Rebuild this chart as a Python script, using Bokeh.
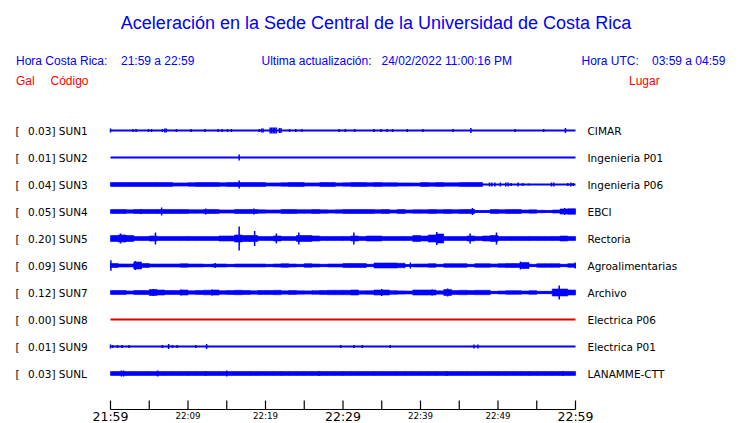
from bokeh.plotting import figure
from bokeh.models import Range1d, Label
from bokeh.embed import file_html
from bokeh.resources import INLINE
from bokeh.core.properties import value

# ---------------- data ----------------
TITLE = "Aceleración en la Sede Central de la Universidad de Costa Rica"
HORA_CR_LABEL = "Hora Costa Rica:"
HORA_CR = "21:59 a 22:59"
UPDATE_LABEL = "Ultima actualización:"
UPDATE = "24/02/2022 11:00:16 PM"
HORA_UTC_LABEL = "Hora UTC:"
HORA_UTC = "03:59 a 04:59"

CODES = ["SUN1", "SUN2", "SUN3", "SUN4", "SUN5", "SUN6", "SUN7", "SUN8", "SUN9", "SUNL"]
GAL = [0.03, 0.01, 0.04, 0.05, 0.20, 0.09, 0.12, 0.00, 0.01, 0.03]
PLACES = ["CIMAR", "Ingenieria P01", "Ingenieria P06", "EBCI", "Rectoria",
          "Agroalimentarias", "Archivo", "Electrica P06", "Electrica P01", "LANAMME-CTT"]
STATUS_OK = [True, True, True, True, True, True, True, False, True, True]

# minutes after 21:59
TICK_MIN = [0, 5, 10, 15, 20, 25, 30, 35, 40, 45, 50, 55, 60]
MAJOR_LABEL_MIN = [0, 30, 60]
MAJOR_LABELS = ["21:59", "22:29", "22:59"]
MINOR_LABEL_MIN = [10, 20, 40, 50]
MINOR_LABELS = ["22:09", "22:19", "22:39", "22:49"]

# per-minute half-amplitude of the noise envelope (trace pixels)
ENV = {
    "SUN3": [2, 2, 2, 2, 2, 2, 2, 2, 1.6, 1.6,
             1.8, 2, 2, 2, 1.7, 2, 2, 2, 2, 2,
             1.6, 1.6, 1.8, 2, 2, 1.6, 1.6, 2, 2, 1.6,
             1.7, 2, 2, 1.8, 2, 1.7, 1.8, 1.6, 1.6, 1.5,
             2, 1.8, 2, 1.7, 1.7, 2, 2, 2, 0, 0,
             0, 0, 0, 0, 0, 0, 0, 0, 0, 0],
    "SUN4": [2, 2, 1.7, 2, 2, 2, 2, 2, 2, 2,
             1.8, 1.7, 2, 2, 1.6, 1.6, 2, 2, 2, 1.7,
             1.6, 1.6, 2, 2, 1.8, 1.8, 2, 1.7, 1.6, 1.7,
             2, 2, 2, 2, 1.8, 2, 1.6, 2, 1.6, 1.8,
             1.7, 2, 1.8, 2, 1.8, 2, 2, 1, 1, 2,
             1.8, 2, 2, 1.5, 1.7, 1.2, 1, 1.5, 2.5, 2.8],
    "SUN5": [3, 3.5, 3, 2, 2, 2.5, 2, 2, 2, 2,
             2, 2, 2, 2, 2.5, 2.5, 3.5, 3, 3, 2,
             2, 2.5, 2, 2, 3, 3, 2.5, 2, 2, 2,
             2, 2.5, 2, 2.5, 2.5, 2, 2, 2, 2, 3,
             2.5, 3.5, 4.5, 2, 2, 2, 2.5, 2, 2.5, 3,
             2, 2, 2, 2, 2, 2, 2, 2, 2.5, 2],
    "SUN6": [2, 1.5, 1.5, 3.5, 2, 1.5, 1.5, 1.5, 1.5, 1.8,
             1.5, 1.5, 1.2, 1.5, 1.5, 1.2, 1.5, 1.5, 1.5, 1.5,
             1.2, 1.5, 1.8, 1.5, 1.2, 1.8, 1.5, 1.2, 1.5, 1.5,
             2, 2, 2, 1.2, 2.5, 2.5, 2.5, 2.2, 1, 1.5,
             1.5, 1.8, 1.2, 1.8, 1.8, 1.8, 1.2, 1.8, 1.8, 1.5,
             1.8, 2, 2, 3, 1.2, 1.8, 1.8, 1.8, 1.2, 1.8],
    "SUN7": [2, 2, 1.6, 2, 2, 3, 2.5, 2, 2, 2.5,
             1.7, 2, 2.3, 2.5, 1.8, 2, 2.2, 2, 1.7, 2,
             2, 2.2, 1.7, 2, 1.7, 1.6, 1.8, 2, 2.2, 2.2,
             2.2, 2.5, 1.7, 1.8, 2.5, 2.5, 1.8, 1.6, 1.5, 2.5,
             2.5, 2.5, 1.7, 3, 2, 2.2, 2, 2.2, 2.2, 1.2,
             1.5, 1.8, 1.8, 1.5, 1.8, 1.2, 1.2, 3.5, 3.5, 2.5],
    "SUNL": [2, 2, 2, 2, 2, 2, 2, 2, 2, 2,
             2, 2, 2, 2, 2, 2, 2, 2, 2, 2,
             2, 2, 2, 2, 2, 2, 2, 2, 2, 2,
             2, 2, 2, 2, 2, 2, 2, 2, 2, 2,
             2, 2, 2, 2, 2, 2, 2, 2, 2, 2,
             2, 2, 2, 2, 2, 2, 2, 2, 2, 2],
}

# isolated peaks: minute and half-amplitude (trace pixels)
SPIKE_T = {
    "SUN1": [0.0, 2.9, 3.3, 4.9, 5.3, 6.7, 7.0, 7.2, 8.5, 10.4, 12.2, 13.9, 14.4, 15.1, 15.6,
             19.2, 19.5, 19.7, 20.6, 20.8, 21.0, 21.2, 21.4, 21.8, 22.0, 23.1, 23.9, 24.7,
             29.5, 30.3, 31.5, 34.0, 34.9, 35.7, 36.4, 38.3, 40.3, 44.2, 46.5, 52.2, 55.9, 58.7],
    "SUN2": [16.6],
    "SUN3": [16.6, 48.9, 49.2, 49.6, 50.3, 51.0, 51.3, 51.7, 52.6, 53.2, 54.0, 56.9, 57.2,
             59.0, 59.4, 59.7],
    "SUN4": [3.9, 6.6, 12.3, 18.5, 46.7, 58.6],
    "SUN5": [1.3, 5.8, 16.6, 18.6, 21.4, 24.3, 31.4, 42.1, 46.4, 49.8],
    "SUN6": [0.05, 3.2, 13.5, 38.7, 52.9, 59.95],
    "SUN7": [5.5, 9.1, 13.1, 35.0, 41.5, 43.5, 57.9],
    "SUN8": [],
    "SUN9": [0.0, 0.3, 0.9, 1.5, 2.4, 6.7, 7.5, 8.0, 8.6, 11.0, 12.4, 29.7, 31.4, 32.5,
             36.1, 46.9, 47.4],
    "SUNL": [1.4, 1.7, 6.1, 12.3, 15.0, 26.9, 43.4, 58.4],
}
SPIKE_A = {
    "SUN1": [2, 1.5, 1.5, 1.5, 1.5, 1.5, 2, 2, 1.5, 1.5, 1.5, 1.5, 1.5, 1.5, 1.5,
             1.5, 2, 2, 3, 3, 3, 3, 3, 2.5, 2.5, 1.5, 1.5, 1.5,
             1.5, 1.5, 1.5, 1.5, 1.5, 1.5, 1.5, 1.5, 1.5, 1.5, 2.5, 1.5, 1.5, 2.5],
    "SUN2": [3],
    "SUN3": [4, 2, 2, 2, 2, 2, 2, 1.5, 2, 1.5, 1, 2, 2, 1.5, 2, 1.5],
    "SUN4": [2.5, 4, 3, 3, 3.5, 3.5],
    "SUN5": [5, 6, 12, 7.5, 5, 6, 6, 6.5, 5, 6],
    "SUN6": [5.3, 4.5, 2.5, 3, 4, 3],
    "SUN7": [3.5, 3, 3, 3.5, 3, 4, 7],
    "SUN8": [],
    "SUN9": [2, 1.5, 1.5, 1.5, 1.5, 1.5, 2.5, 1.5, 1.5, 1.5, 2.5, 1.5, 1.5, 1.5,
             1.5, 2, 2],
    "SUNL": [3, 3, 3, 2.5, 3, 2.5, 2.5, 2.5],
}

# ---------------- layout / style ----------------
W, H = 740, 423
PX_PER_MIN = 7.75          # horizontal scale
ROW_PX = 27                # vertical spacing between traces
X0_PX = 110                # canvas x of minute 0
Y0_PX = 130                # canvas y of first trace

BLUE = "#0000ff"
RED = "#ff0000"
LABEL_FONT = "DejaVu Sans"
HEAD_FONT = "Liberation Sans"


def px2x(ref_x):
    return (ref_x - X0_PX) / PX_PER_MIN


def px2y(ref_y):
    return -(ref_y - Y0_PX) / ROW_PX


amp_unit = 1.0 / ROW_PX

p = figure(width=W, height=H, output_backend="svg", toolbar_location=None,
           x_range=Range1d(-X0_PX / PX_PER_MIN, (W - X0_PX) / PX_PER_MIN),
           y_range=Range1d(-(H - Y0_PX) / ROW_PX, Y0_PX / ROW_PX),
           min_border=0, x_axis_type=None, y_axis_type=None)
p.grid.visible = False
p.outline_line_color = None
p.background_fill_color = "white"
p.border_fill_color = "white"

# ---- traces ----
for k, code in enumerate(CODES):
    yk = -k
    color = BLUE if STATUS_OK[k] else "#dd0000"
    p.segment(x0=[TICK_MIN[0]], x1=[TICK_MIN[-1]], y0=[yk], y1=[yk],
              line_color=color, line_width=2)
    if code in ENV:
        env = ENV[code]
        lefts = [m for m, a in enumerate(env) if a > 0]
        amps = [a for a in env if a > 0]
        p.quad(left=lefts, right=[m + 1 for m in lefts],
               bottom=[yk - a * amp_unit for a in amps],
               top=[yk + a * amp_unit for a in amps],
               fill_color=color, line_color=color, line_width=0.6)
    ts = SPIKE_T[code]
    if ts:
        amps = SPIKE_A[code]
        p.segment(x0=ts, x1=ts,
                  y0=[yk - a * amp_unit for a in amps],
                  y1=[yk + a * amp_unit for a in amps],
                  line_color=color, line_width=1.5)

rows_y = [-k for k in range(len(CODES))]

# left labels
p.text(x=[px2x(15)] * len(CODES), y=rows_y, text=["["] * len(CODES),
       text_font=value(LABEL_FONT), text_font_size="10.5px", text_color="black",
       text_align="left", text_baseline="middle")
p.text(x=[px2x(27.5)] * len(CODES), y=rows_y,
       text=[f"{g:.2f}] {c}" for g, c in zip(GAL, CODES)],
       text_font=value(LABEL_FONT), text_font_size="10.5px", text_color="black",
       text_align="left", text_baseline="middle")
# right labels
p.text(x=[px2x(587)] * len(CODES), y=rows_y, text=PLACES,
       text_font=value(LABEL_FONT), text_font_size="10.5px", text_color="black",
       text_align="left", text_baseline="middle")

# ---- time axis ----
axis_y = px2y(409)
tick_len = 9 * amp_unit
p.segment(x0=[TICK_MIN[0]], x1=[TICK_MIN[-1]], y0=[axis_y], y1=[axis_y],
          line_color="black", line_width=1.2)
p.segment(x0=TICK_MIN, x1=TICK_MIN, y0=[axis_y] * len(TICK_MIN),
          y1=[axis_y + tick_len] * len(TICK_MIN), line_color="black", line_width=1.2)
p.text(x=MAJOR_LABEL_MIN, y=[px2y(415.5)] * len(MAJOR_LABEL_MIN), text=MAJOR_LABELS,
       text_font=value(LABEL_FONT), text_font_size="12.5px", text_color="black",
       text_align="center", text_baseline="middle")
p.text(x=MINOR_LABEL_MIN, y=[px2y(415.5)] * len(MINOR_LABEL_MIN), text=MINOR_LABELS,
       text_font=value(LABEL_FONT), text_font_size="8.7px", text_color="black",
       text_align="center", text_baseline="middle")

# ---- header texts ----
def add_label(text, ref_x, ref_y, size, color, align="left", font=HEAD_FONT):
    p.add_layout(Label(x=px2x(ref_x), y=px2y(ref_y), text=text, text_font=font,
                       text_font_size=size, text_color=color, text_align=align,
                       text_baseline="middle"))


add_label(TITLE, 375.5, 22, "18px", BLUE, align="center")
add_label(HORA_CR_LABEL, 15.5, 60, "12px", BLUE)
add_label(HORA_CR, 120.5, 60, "12px", BLUE)
add_label(UPDATE_LABEL, 261, 60, "12px", BLUE)
add_label(UPDATE, 381, 60, "12px", BLUE)
add_label(HORA_UTC_LABEL, 581, 60, "12px", BLUE)
add_label(HORA_UTC, 651.5, 60, "12px", BLUE)
add_label("Gal", 15.5, 80.5, "12px", RED)
add_label("Código", 50, 80.5, "12px", RED)
add_label("Lugar", 628.5, 80.5, "12px", RED)

open("out.html", "w").write(file_html(p, INLINE))
